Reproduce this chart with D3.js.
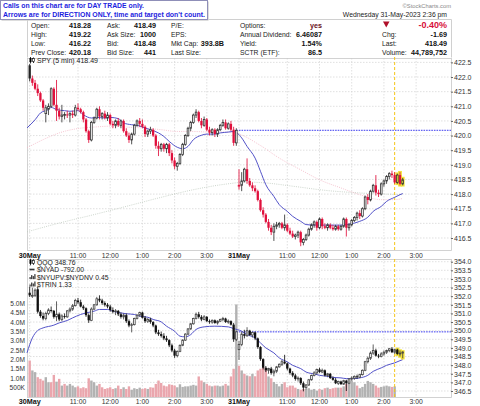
<!DOCTYPE html>
<html><head><meta charset="utf-8">
<script src="https://cdnjs.cloudflare.com/ajax/libs/d3/7.8.5/d3.min.js"></script>
<style>
html,body{margin:0;padding:0;background:#fff;}
svg{display:block;font-family:"Liberation Sans",Arial,sans-serif;}
</style></head><body>
<svg id="c" width="480" height="406"></svg>
<script>
// ---------- DATA ----------
const tickBars   = [0,18,30,42,54,66,78,96,108,120,132,144];
const tickLabels = ['30May','11:00','12:00','1:00','2:00','3:00','31May','11:00','12:00','1:00','2:00','3:00'];
const spyTicks = [416.5,417.0,417.5,418.0,418.5,419.0,419.5,420.0,420.5,421.0,421.5,422.0,422.5];
const qqqTicks = [346.5,347.0,347.5,348.0,348.5,349.0,349.5,350.0,350.5,351.0,351.5,352.0,352.5,353.0,353.5,354.0];
const volTicks  = [0.5,1.0,1.5,2.0,2.5,3.0,3.5,4.0,4.5,5.0];
const volLabels = ['500K','1.0M','1.5M','2.0M','2.5M','3.0M','3.5M','4.0M','4.5M','5.0M'];

const spyOpen = [
 422.40,421.95,421.80,421.60,421.45,421.20,420.75,420.90,421.00,421.60,
 421.05,420.85,420.65,420.70,420.72,420.70,420.75,420.70,420.95,420.90,
 420.80,420.55,420.15,419.85,420.45,420.60,420.90,420.65,420.75,420.60,
 420.70,420.40,420.35,420.50,420.35,420.50,420.15,420.00,419.85,420.05,
 420.35,420.50,420.40,420.30,420.05,420.15,420.20,420.00,419.65,419.55,
 419.70,419.55,419.70,419.40,419.15,418.95,419.05,419.35,419.70,420.00,
 420.25,420.45,420.70,420.80,420.50,420.35,420.55,420.20,420.10,420.20,
 420.05,420.20,420.35,420.45,420.25,420.40,420.20,419.75,
 418.28,418.30,418.45,418.85,418.45,418.30,418.20,418.10,417.80,417.45,
 417.30,417.05,416.85,416.70,416.90,416.95,417.00,416.85,416.95,416.75,
 416.65,416.55,416.60,416.70,416.35,416.45,416.60,416.80,416.95,417.05,
 416.85,417.15,416.90,416.85,416.95,416.85,416.80,416.90,416.80,416.90,
 417.15,416.85,416.95,417.10,417.20,417.35,417.25,417.50,417.90,417.80,
 418.10,418.30,418.05,418.00,418.35,418.45,418.60,418.70,418.65,418.40,
 418.65,418.35];
const spyHigh = [
 422.45,422.05,421.90,421.75,421.50,421.25,421.05,421.10,421.65,421.65,
 421.90,420.95,421.05,420.80,420.85,420.80,420.85,421.05,421.10,420.95,
 420.85,420.60,420.20,420.50,420.65,420.95,421.00,420.80,420.85,420.80,
 420.75,420.50,420.55,420.60,420.55,420.55,420.25,420.10,420.10,420.40,
 420.55,420.60,420.55,420.35,420.20,420.30,420.25,420.05,419.80,419.75,
 419.75,419.75,419.75,419.50,419.25,419.10,419.40,419.75,420.05,420.30,
 420.50,420.75,420.90,420.85,420.60,420.65,420.60,420.30,420.25,420.25,
 420.25,420.40,420.55,420.55,420.45,420.50,420.30,420.25,
 418.85,418.75,418.90,419.22,418.55,418.40,418.30,418.15,417.85,417.55,
 417.35,417.15,416.95,417.00,417.05,417.05,417.05,417.30,417.00,416.85,
 416.75,416.65,416.75,416.75,416.50,416.65,416.85,417.00,417.10,417.10,
 417.20,417.20,417.00,417.00,417.00,416.95,416.95,416.95,416.95,417.20,
 417.20,417.00,417.15,417.25,417.40,417.45,417.55,417.95,418.00,418.15,
 418.35,418.65,418.15,418.40,418.50,418.65,418.75,418.80,418.75,418.70,
 418.75,418.55];
const spyLow = [
 421.85,421.70,421.55,421.35,421.15,420.85,420.45,420.70,420.95,421.00,
 420.50,420.55,420.45,420.55,420.60,420.45,420.60,420.65,420.85,420.75,
 420.45,420.10,419.75,419.80,420.40,420.55,420.55,420.55,420.55,420.50,
 420.35,420.25,420.25,420.30,420.25,420.10,419.95,419.75,419.70,420.00,
 420.30,420.30,420.25,419.95,419.95,420.05,419.95,419.55,419.30,419.45,
 419.45,419.40,419.30,419.05,418.85,418.80,419.00,419.30,419.65,419.95,
 420.15,420.40,420.60,420.45,420.25,420.30,420.15,420.00,420.00,419.95,
 419.95,420.15,420.30,420.20,420.20,420.15,419.65,419.65,
 418.15,418.10,418.40,418.35,418.25,418.10,418.05,417.75,417.40,417.20,
 417.00,416.75,416.60,416.40,416.80,416.85,416.80,416.75,416.70,416.60,
 416.50,416.45,416.50,416.22,416.25,416.40,416.55,416.75,416.85,416.75,
 416.80,416.80,416.80,416.75,416.80,416.75,416.75,416.75,416.75,416.85,
 416.55,416.75,416.90,417.05,417.10,417.15,417.20,417.45,417.65,417.75,
 418.05,417.95,417.90,417.95,418.25,418.35,418.50,418.55,418.35,418.35,
 418.30,418.30];
const spyClose = [
 421.95,421.80,421.60,421.45,421.20,420.95,420.95,421.00,421.60,421.05,
 420.85,420.65,420.70,420.72,420.70,420.75,420.70,420.95,420.90,420.80,
 420.55,420.15,419.85,420.45,420.60,420.90,420.65,420.75,420.60,420.70,
 420.40,420.35,420.50,420.35,420.50,420.15,420.00,419.85,420.05,420.35,
 420.50,420.40,420.30,420.05,420.15,420.20,420.00,419.65,419.55,419.70,
 419.55,419.70,419.40,419.15,418.95,419.05,419.35,419.70,420.00,420.25,
 420.45,420.70,420.80,420.50,420.35,420.55,420.20,420.10,420.20,420.05,
 420.20,420.35,420.45,420.25,420.40,420.20,419.75,420.18,
 418.30,418.45,418.85,418.45,418.30,418.20,418.10,417.80,417.45,417.30,
 417.05,416.85,416.70,416.90,416.95,417.00,416.85,416.95,416.75,416.65,
 416.55,416.60,416.70,416.35,416.45,416.60,416.80,416.95,417.05,416.85,
 417.15,416.90,416.85,416.95,416.85,416.80,416.90,416.80,416.90,417.15,
 416.85,416.95,417.10,417.20,417.35,417.25,417.50,417.90,417.80,418.10,
 418.30,418.05,418.00,418.35,418.45,418.60,418.70,418.65,418.40,418.65,
 418.35,418.49];

const qqqOpen = [
 352.20,352.05,352.05,352.40,351.10,350.85,350.70,351.00,351.20,351.15,
 350.80,350.95,350.65,350.85,350.80,351.15,351.25,351.45,351.75,351.65,
 351.40,351.30,350.90,350.60,351.25,351.50,351.85,351.75,351.60,351.50,
 351.40,351.20,351.10,351.15,350.95,350.80,350.90,350.55,350.30,350.35,
 350.70,350.90,351.05,350.75,350.55,350.65,350.50,350.30,349.90,349.80,
 349.70,349.55,349.45,349.15,348.85,348.55,348.80,349.15,349.45,349.80,
 350.10,350.40,350.70,350.95,350.80,350.65,350.80,350.55,350.50,350.60,
 350.45,350.55,350.65,350.70,350.50,350.55,350.35,349.50,
 348.90,349.20,349.80,349.70,350.00,349.75,349.90,349.55,349.05,348.35,
 347.85,347.70,347.80,347.55,347.65,347.90,348.05,348.20,348.10,347.80,
 347.55,347.40,347.20,347.25,346.95,346.70,346.85,347.15,347.40,347.55,
 347.75,347.60,347.70,347.40,347.50,347.25,347.15,346.95,347.05,346.90,
 347.10,346.95,347.20,347.25,347.35,347.30,347.45,347.70,348.20,348.40,
 348.70,348.85,348.55,348.50,348.65,348.75,348.85,348.95,348.75,348.90,
 348.65,348.70];
const qqqHigh = [
 352.55,352.50,352.45,352.55,351.20,351.05,351.10,351.30,351.40,351.20,
 351.70,351.05,350.95,351.00,351.20,351.35,351.55,351.85,351.90,351.80,
 351.50,351.35,351.00,351.35,351.55,351.95,352.05,351.85,351.70,351.60,
 351.50,351.35,351.25,351.20,351.05,351.00,351.00,350.65,350.45,350.75,
 350.95,351.10,351.10,350.85,350.75,350.75,350.55,350.35,350.05,349.95,
 349.85,349.70,349.50,349.25,348.95,348.85,349.20,349.50,349.85,350.15,
 350.45,350.75,351.05,351.09,350.90,350.90,350.85,350.65,350.65,350.65,
 350.60,350.70,350.80,350.75,350.65,350.60,350.45,350.00,
 349.40,349.95,350.05,350.20,350.05,349.95,349.95,349.60,349.10,348.40,
 347.95,347.85,347.90,347.75,347.95,348.10,348.30,348.60,348.15,347.85,
 347.65,347.50,347.35,347.30,347.05,346.90,347.20,347.45,347.65,347.80,
 347.85,347.80,347.75,347.55,347.55,347.35,347.25,347.10,347.10,347.15,
 347.15,347.25,347.35,347.40,347.45,347.50,347.75,348.25,348.50,348.80,
 349.20,348.95,348.65,348.75,348.85,348.90,349.00,349.05,348.95,348.95,
 348.85,348.80];
const qqqLow = [
 351.95,351.90,351.95,351.00,350.75,350.60,350.60,350.90,351.05,350.70,
 350.55,350.55,350.55,350.70,350.75,351.05,351.15,351.40,351.55,351.35,
 351.20,350.80,350.45,350.55,351.20,351.45,351.65,351.50,351.40,351.30,
 351.10,351.00,350.90,350.85,350.70,350.65,350.45,350.20,349.90,350.30,
 350.65,350.80,350.70,350.45,350.45,350.40,350.20,349.80,349.70,349.60,
 349.45,349.35,349.05,348.75,348.42,348.45,348.75,349.10,349.40,349.75,
 350.05,350.35,350.65,350.70,350.55,350.60,350.50,350.40,350.40,350.40,
 350.35,350.50,350.55,350.45,350.40,350.30,349.35,349.40,
 348.30,349.10,349.55,349.65,349.70,349.60,349.45,348.95,348.25,347.75,
 347.60,347.50,347.45,347.35,347.55,347.85,347.95,348.05,347.70,347.45,
 347.30,347.10,347.05,346.85,346.48,346.60,346.80,347.10,347.35,347.45,
 347.55,347.55,347.35,347.30,347.20,347.10,346.90,346.85,346.85,346.85,
 346.50,346.90,347.10,347.15,347.20,347.25,347.40,347.65,348.10,348.30,
 348.60,348.50,348.40,348.45,348.55,348.65,348.75,348.70,348.65,348.60,
 348.50,348.40];
const qqqClose = [
 352.05,352.05,352.35,351.10,350.85,350.70,351.00,351.20,351.15,350.80,
 350.95,350.65,350.85,350.80,351.15,351.25,351.45,351.75,351.65,351.40,
 351.30,350.90,350.60,351.25,351.50,351.85,351.75,351.60,351.50,351.40,
 351.20,351.10,351.15,350.95,350.80,350.90,350.55,350.30,350.35,350.70,
 350.90,351.05,350.75,350.55,350.65,350.50,350.30,349.90,349.80,349.70,
 349.55,349.45,349.15,348.85,348.55,348.80,349.15,349.45,349.80,350.10,
 350.40,350.70,350.95,350.80,350.65,350.80,350.55,350.50,350.60,350.45,
 350.55,350.65,350.70,350.50,350.55,350.35,349.50,349.93,
 349.20,349.80,349.70,350.00,349.75,349.90,349.55,349.05,348.35,347.85,
 347.70,347.80,347.55,347.65,347.90,348.05,348.20,348.10,347.80,347.55,
 347.40,347.20,347.25,346.95,346.70,346.85,347.15,347.40,347.55,347.75,
 347.60,347.70,347.40,347.50,347.25,347.15,346.95,347.05,346.90,347.10,
 346.95,347.20,347.25,347.35,347.30,347.45,347.70,348.20,348.40,348.70,
 348.85,348.55,348.50,348.65,348.75,348.85,348.95,348.75,348.90,348.65,
 348.70,348.76];

// volume in millions
const volume = [
 1.95,1.42,1.33,1.06,0.97,0.88,1.06,0.79,0.79,1.18,
 0.82,0.97,0.61,0.70,0.61,0.70,0.61,0.52,0.57,0.47,
 0.52,0.47,1.00,0.88,0.79,0.61,0.70,0.52,0.43,0.47,
 0.52,0.43,0.47,0.61,0.43,0.52,0.43,0.57,0.39,0.47,
 0.43,0.50,0.43,0.47,0.43,0.52,0.50,0.70,0.88,0.75,
 0.61,0.57,0.68,0.65,0.61,0.52,0.68,0.54,0.57,0.57,
 0.61,0.65,0.61,1.10,0.88,0.79,0.70,0.61,0.57,0.61,
 0.61,0.57,0.61,0.70,0.61,1.10,1.51,4.95,
 1.67,1.42,1.24,1.15,1.11,1.24,1.11,1.42,1.51,1.60,
 1.50,1.10,1.00,0.80,0.70,0.57,0.70,0.79,0.52,0.61,
 0.61,0.50,0.43,0.39,0.43,0.43,0.47,0.39,0.43,0.34,
 0.43,0.39,0.47,0.50,0.43,0.47,0.50,0.50,0.50,0.57,
 0.70,0.79,0.88,0.79,0.61,0.47,0.54,0.70,0.86,0.79,
 0.70,0.61,0.50,0.54,0.57,0.61,0.57,0.54,0.57,null,
 null,null];

// moving averages, read at sampled bars
const spyMaBars = [-1,2,4,7,8,10,13,15,18,20,23,25,28,30,33,35,38,40,43,45,48,50,52,55,57,59,61,64,66,69,71,74,76,79,81,84,86,88,91,93,96,98,101,103,106,111,116,118,121,123,126,128,131,133,136,138,139];
const spyMa     = [420.26,420.54,420.77,420.89,420.96,420.89,420.85,420.83,420.85,420.71,420.60,420.62,420.60,420.62,420.58,420.43,420.37,420.35,420.26,420.20,420.09,419.97,419.80,419.60,419.55,419.63,419.86,420.01,420.05,420.05,420.09,420.12,420.14,419.92,419.63,419.23,418.78,418.32,417.92,417.64,417.41,417.24,417.07,416.96,416.94,416.94,416.94,416.96,417.01,417.07,417.21,417.41,417.58,417.75,417.89,417.98,418.02];
const spyMa2Bars = [-1,5,11,18,24,30,36,42,49,55,61,67,73,78,86,93,101,108,116,123,131,136,139];
const spyMa2     = [419.58,419.86,420.09,420.24,420.29,420.32,420.29,420.26,420.20,420.14,420.14,420.12,420.12,420.05,419.66,419.23,418.83,418.49,418.21,417.98,417.81,417.81,417.85];
const spyMa3Bars = [-1,11,24,36,49,61,73,81,88,98,111,123,139];
const spyMa3     = [416.71,417.01,417.30,417.58,417.89,418.15,418.34,418.41,418.38,418.27,418.12,418.04,417.98];
const qqqMaBars = [-1,1,3,5,9,11,14,16,19,21,24,26,29,31,34,36,39,41,44,46,49,51,54,56,58,60,62,65,69,74,76,79,81,84,86,88,91,93,96,98,101,103,106,108,111,113,116,118,121,123,126,128,131,133,136,138,139];
const qqqMa     = [348.71,349.58,350.01,350.16,350.32,350.45,350.59,350.74,350.94,351.03,351.13,351.23,351.23,351.13,351.03,350.98,350.94,350.84,350.78,350.65,350.51,350.26,349.97,349.68,349.64,349.77,350.07,350.22,350.26,350.22,350.12,349.97,349.77,349.58,349.29,349.00,348.71,348.42,348.19,347.99,347.80,347.60,347.49,347.41,347.35,347.29,347.26,347.22,347.22,347.26,347.41,347.64,347.84,347.99,348.13,348.26,348.32];

const spyPrevClose = 420.18, qqqPrevClose = 349.93;
const markBar = 136;          // yellow marker bar
const firstHighlight = 137;   // highlighted bars after marker

// header table
const hdrL1 = ['Open:','High:','Low:','Prev Close:'], hdrV1 = ['418.28','419.22','416.22','420.18'];
const hdrL2 = ['Ask:','Ask Size:','Bid:','Bid Size:'], hdrV2 = ['418.49','1000','418.48','441'];
const hdrL3 = ['P/E:','EPS:','Mkt Cap:','Last Size:'], hdrV3 = ['','','393.8B',''];
const hdrL4 = ['Options:','Annual Dividend:','Yield:','SCTR (ETF):'], hdrV4 = ['yes','6.46087','1.54%','86.5'];
const hdrL5 = ['','Chg:','Last:','Volume:'], hdrV5 = ['-0.40%','-1.69','418.49','44,789,752'];

// ---------- DRAW ----------
const svg = d3.select('#c');
const N = spyClose.length;
const x = d3.scaleLinear().domain([-1,157]).range([27,451]);
const P1 = {top:58, bot:250}, P2 = {top:259, bot:397};
const ySpy = d3.scaleLinear().domain([416.09,422.65]).range([P1.bot,P1.top]);
const yQqq = d3.scaleLinear().domain([346.152,354.157]).range([P2.bot,P2.top]);
const yVol = d3.scaleLinear().domain([0,5]).range([P2.bot,303.5]);
const L = 27, R = 451;

// note box
svg.append('rect').attr('x',1.5).attr('y',1.5).attr('width',207).attr('height',19).attr('fill','#bbb');
svg.append('rect').attr('x',0.5).attr('y',0.5).attr('width',207).attr('height',19).attr('fill','#fff').attr('stroke','#8f8fb8');
svg.append('text').attr('x',3).attr('y',8.3).attr('font-size',7).attr('font-weight','bold').attr('fill','#1d1de0')
  .attr('textLength',141).attr('lengthAdjust','spacingAndGlyphs').text('Calls on this chart are for DAY TRADE only.');
svg.append('text').attr('x',3).attr('y',16.6).attr('font-size',7).attr('font-weight','bold').attr('fill','#1d1de0')
  .attr('textLength',202).attr('lengthAdjust','spacingAndGlyphs').text("Arrows are for DIRECTION ONLY, time and target don't count.");

// header table
const hdr = svg.append('g');
hdr.append('path').attr('d',`M208.5,19.5H${R+0.5}V57.5M27.5,20V57.5`).attr('fill','none').attr('stroke','#d0d0d0');
svg.append('text').attr('x',451).attr('y',8.3).attr('text-anchor','end').attr('font-size',5.8).attr('fill','#888').text('\u00A9StockCharts.com');
svg.append('text').attr('x',447).attr('y',17.3).attr('text-anchor','end').attr('font-size',6.8).attr('fill','#222').text('Wednesday  31-May-2023  2:36 pm');
const rows = [28,37,46,55];
function col(labels, vals, lx, vx, opts={}) {
  labels.forEach((t,i)=>{ if(t) hdr.append('text').attr('x',lx).attr('y',rows[i]).attr('font-size',6.8).attr('fill','#222').text(t); });
  vals.forEach((t,i)=>{ if(t) hdr.append('text').attr('x',vx).attr('y',rows[i]).attr('text-anchor','end')
    .attr('font-size', (opts.big && i===0)?9:7.2).attr('font-weight','bold')
    .attr('fill', (opts.colors && opts.colors[i]) || '#111').text(t); });
}
col(hdrL1,hdrV1,31,91);
col(hdrL2,hdrV2,107,156);
col(hdrL3,hdrV3,171,224);
col(hdrL4,hdrV4,240,322,{colors:['#6a1020']});
col(hdrL5,hdrV5,382,447,{big:true,colors:['#d8103a']});
hdr.append('path').attr('d','M383,21.5 L389.5,21.5 L386.25,27.5 Z').attr('fill','#b0102a');

// panels
function panel(P, yS, ticks) {
  const g = svg.append('g');
  ticks.forEach(t=>{
    g.append('line').attr('x1',L).attr('x2',R).attr('y1',yS(t)).attr('y2',yS(t))
      .attr('stroke','#d2d2d2').attr('stroke-width',0.7).attr('stroke-dasharray','1.5,1.5');
  });
  tickBars.forEach(b=>{
    if (x(b) > R) return;
    g.append('line').attr('x1',x(b)).attr('x2',x(b)).attr('y1',P.top).attr('y2',P.bot)
      .attr('stroke','#d2d2d2').attr('stroke-width',0.7).attr('stroke-dasharray','1.5,1.5');
  });
  g.append('rect').attr('x',L+0.5).attr('y',P.top+0.5).attr('width',R-L).attr('height',P.bot-P.top)
    .attr('fill','none').attr('stroke','#c8c8c8').attr('stroke-width',0.8);
  const ax = svg.append('g').attr('transform',`translate(${R},0)`)
    .call(d3.axisRight(yS).tickValues(ticks).tickSize(2).tickPadding(1).tickFormat(d3.format('.1f')));
  ax.select('.domain').remove();
  ax.selectAll('line').attr('stroke','#666');
  ax.selectAll('text').attr('font-size',7).attr('fill','#333').attr('font-family','"Liberation Sans",Arial,sans-serif');
  return g;
}
panel(P1, ySpy, spyTicks);
panel(P2, yQqq, qqqTicks);

// x labels
function xLabels(yb) {
  tickBars.forEach((b,i)=>{
    if (x(b) > R) return;
    const bold = tickLabels[i].includes('May');
    svg.append('text').attr('x',x(b)).attr('y',yb).attr('text-anchor','middle')
      .attr('font-size',bold?7.2:6.8).attr('font-weight',bold?'bold':'normal').attr('fill',bold?'#111':'#333')
      .text(tickLabels[i]);
  });
}
xLabels(257.8);
xLabels(403.6);

// volume left axis labels
volTicks.forEach((v,i)=>{
  svg.append('text').attr('x',25).attr('y',yVol(v)+2.4).attr('text-anchor','end').attr('font-size',6.6).attr('fill','#333').text(volLabels[i]);
});

// volume bars
const vg = svg.append('g');
volume.forEach((v,i)=>{
  if (v==null) return;
  const prev = i>0 ? qqqClose[i-1] : qqqOpen[0];
  const down = qqqClose[i] < prev;
  vg.append('rect').attr('x',x(i)-1.2).attr('width',2.4).attr('y',yVol(v)).attr('height',P2.bot-yVol(v))
    .attr('fill', down ? '#eaa6ad' : '#b2b2b2');
});

// moving averages
function ma(bars, vals, yS, color, dash, w) {
  const pts = bars.map((b,i)=>[b,vals[i]]);
  svg.append('path').attr('d', d3.line().x(d=>x(d[0])).y(d=>yS(d[1])).curve(d3.curveMonotoneX)(pts))
    .attr('fill','none').attr('stroke',color).attr('stroke-width',w).attr('stroke-dasharray',dash);
}
ma(spyMa3Bars, spyMa3, ySpy, '#bfcabf', '1,1.2', 0.8);
ma(spyMa2Bars, spyMa2, ySpy, '#f2b5c4', '1,1.2', 0.8);

// prev-close dotted lines
svg.append('line').attr('x1',x(77)).attr('x2',R).attr('y1',ySpy(spyPrevClose)).attr('y2',ySpy(spyPrevClose))
  .attr('stroke','#3b3bef').attr('stroke-width',1).attr('stroke-dasharray','1.6,1');
svg.append('line').attr('x1',x(77)).attr('x2',R).attr('y1',yQqq(qqqPrevClose)).attr('y2',yQqq(qqqPrevClose))
  .attr('stroke','#3b3bef').attr('stroke-width',1).attr('stroke-dasharray','1.6,1');

// yellow marker
[[57,P1.bot],[P2.top,P2.bot]].forEach(([a,b])=>{
  svg.append('line').attr('x1',x(markBar)).attr('x2',x(markBar)).attr('y1',a).attr('y2',b)
    .attr('stroke','#f5c518').attr('stroke-width',1).attr('stroke-dasharray','3,2');
});

// candles
function candles(O,H,Lo,C,yS,colorOf,upStroke) {
  const g = svg.append('g');
  for (let i=firstHighlight;i<N;i++) {
    g.append('rect').attr('x',x(i)-1.9).attr('width',3.8).attr('y',yS(H[i])-1.2).attr('height',yS(Lo[i])-yS(H[i])+2.4).attr('fill','#f2e23a');
  }
  for (let i=0;i<N;i++) {
    const cx = x(i), col = colorOf(i);
    const up = C[i] >= O[i];
    g.append('line').attr('x1',cx).attr('x2',cx).attr('y1',yS(H[i])).attr('y2',yS(Lo[i]))
      .attr('stroke', up ? upStroke(i) : col).attr('stroke-width',0.85);
    const top = yS(Math.max(O[i],C[i])), bot = yS(Math.min(O[i],C[i]));
    const h = Math.max(bot-top, 0.9);
    if (up) {
      g.append('rect').attr('x',cx-0.85).attr('width',1.7).attr('y',top).attr('height',h)
        .attr('fill', i>=firstHighlight ? '#f2e23a' : '#fff').attr('stroke',upStroke(i)).attr('stroke-width',0.8);
    } else {
      g.append('rect').attr('x',cx-1.15).attr('width',2.3).attr('y',top).attr('height',h).attr('fill',col);
    }
  }
}
ma(spyMaBars, spyMa, ySpy, '#5252c8', null, 1);
candles(spyOpen,spyHigh,spyLow,spyClose,ySpy,
  i => (i>0 && spyClose[i] < spyClose[i-1]) ? '#e0103c' : '#222',
  i => (i>0 && spyClose[i] < spyClose[i-1]) ? '#e0103c' : '#333');
ma(qqqMaBars, qqqMa, yQqq, '#5252c8', null, 1);
candles(qqqOpen,qqqHigh,qqqLow,qqqClose,yQqq, i=>'#111', i=>'#444');

// legends
function candleIcon(x0,yc) {
  svg.append('line').attr('x1',x0+1.5).attr('x2',x0+1.5).attr('y1',yc-3.5).attr('y2',yc+3).attr('stroke','#000').attr('stroke-width',0.8);
  svg.append('rect').attr('x',x0+0.5).attr('y',yc-2.5).attr('width',2).attr('height',4).attr('fill','#000');
  svg.append('line').attr('x1',x0+4.5).attr('x2',x0+4.5).attr('y1',yc-3).attr('y2',yc+2.5).attr('stroke','#000').attr('stroke-width',0.8);
  svg.append('rect').attr('x',x0+3.5).attr('y',yc-2).attr('width',2).attr('height',3).attr('fill','#fff').attr('stroke','#000').attr('stroke-width',0.6);
}
function barIcon(x0,yc) {
  [[0,2],[1.6,4],[3.2,3],[4.8,5]].forEach(([dx,h])=>{
    svg.append('rect').attr('x',x0+dx).attr('y',yc+2-h).attr('width',1.2).attr('height',h).attr('fill','#333');
  });
}
candleIcon(29,60.5);
svg.append('text').attr('x',37).attr('y',63).attr('font-size',7).attr('fill','#222').text('SPY (5 min) 418.49');
const lg = [['QQQ 348.76','c'],['$NYAD -792.00','l'],['$NYUPV:$NYDNV 0.45','b'],['$TRIN 1.33','b']];
lg.forEach(([t,k],i)=>{
  const yb = 264.8 + i*7.4;
  if (k==='c') candleIcon(29, yb-2.5);
  else if (k==='l') svg.append('rect').attr('x',29.5).attr('y',yb-3.5).attr('width',5).attr('height',1.6).attr('fill','#333');
  else barIcon(29.5, yb-2.5);
  svg.append('text').attr('x',37).attr('y',yb).attr('font-size',6.8).attr('fill','#222').text(t);
});
</script></body></html>
